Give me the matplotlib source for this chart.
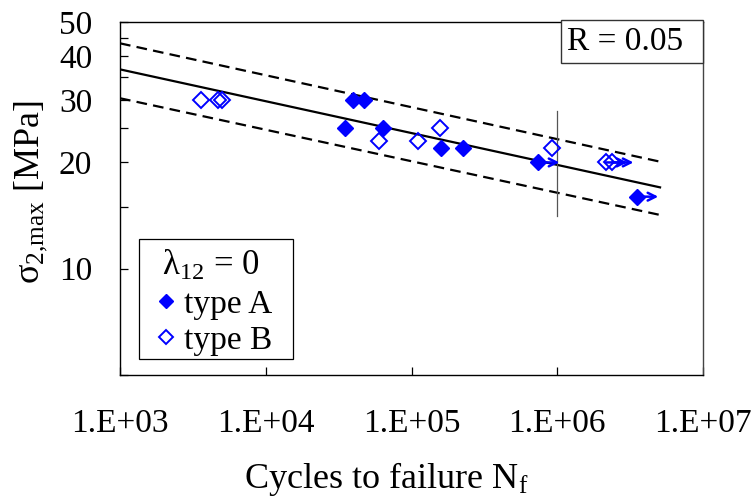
import matplotlib
matplotlib.use("Agg")
import matplotlib.pyplot as plt
from matplotlib.patches import Rectangle
from matplotlib.ticker import FixedLocator, NullLocator, NullFormatter, FixedFormatter

plt.rcParams['font.family'] = ['Liberation Serif', 'DejaVu Serif']
plt.rcParams['mathtext.fontset'] = 'custom'
plt.rcParams['mathtext.rm'] = 'Liberation Serif'
plt.rcParams['mathtext.it'] = 'Liberation Serif:italic'

# data
typeA_N = [3.97e4, 4.72e4, 3.5e4, 6.37e4, 1.59e5, 2.25e5, 7.38e5, 3.52e6]
typeA_S = [30, 30, 25, 25, 22, 22, 20, 16]
typeA_runout = [False, False, False, False, False, False, True, True]

typeB_N = [3.59e3, 4.7e3, 5.0e3, 5.98e4, 1.11e5, 1.57e5, 9.2e5, 2.16e6, 2.38e6]
typeB_S = [30, 30, 30, 23, 23, 25, 22, 20, 20]
typeB_runout = [False, False, False, False, False, False, False, True, True]

# fitted S-N line and scatter band (end points)
fit_N = [1e3, 5.07e6]
fit_S = [36.7, 17.0]
upper_S = [43.5, 20.1]
lower_S = [30.4, 14.2]

# run-out limit marker
limit_N = [1e6, 1e6]
limit_S = [14.1, 28.0]

xticks = [1e3, 1e4, 1e5, 1e6, 1e7]
xlabels = ["1.E+03", "1.E+04", "1.E+05", "1.E+06", "1.E+07"]
yticks = [5, 10, 15, 20, 25, 30, 35, 40, 45, 50]
ylabels = ["", "10", "", "20", "", "30", "", "40", "", "50"]

fs = 24
blue = "#0000ff"

fig = plt.figure(figsize=(7.52, 4.97), dpi=100)
ax = fig.add_axes([0.1596, 0.2455, 0.7753, 0.7103])
ax.set_xscale('log')
ax.set_yscale('log')
ax.set_xlim(1e3, 1e7)
ax.set_ylim(5, 50)

ax.plot(fit_N, fit_S, color='black', lw=1.6, zorder=2)
ax.plot(fit_N, upper_S, color='black', lw=1.6, ls=(0, (4.8, 2.8)), zorder=2)
ax.plot(fit_N, lower_S, color='black', lw=1.6, ls=(0, (4.8, 2.8)), zorder=2)
ax.plot(limit_N, limit_S, color='#555555', lw=0.9, zorder=2)

# run-out arrows
for N, S, r in list(zip(typeA_N, typeA_S, typeA_runout)) + list(zip(typeB_N, typeB_S, typeB_runout)):
    if r:
        ax.annotate("", xy=(N * 1.4, S), xytext=(N, S),
                    arrowprops=dict(arrowstyle='->', color=blue, lw=1.8,
                                    mutation_scale=14, shrinkA=0, shrinkB=0),
                    zorder=3)

ax.plot(typeA_N, typeA_S, ls='none', marker='D', ms=8.5, mfc=blue, mec=blue,
        mew=1.0, label='type A', zorder=4)
ax.plot(typeB_N, typeB_S, ls='none', marker='D', ms=8.0, mfc='none', mec=blue,
        mew=1.4, label='type B', zorder=4)

ax.xaxis.set_major_locator(FixedLocator(xticks))
ax.xaxis.set_major_formatter(FixedFormatter(xlabels))
ax.xaxis.set_minor_locator(NullLocator())
ax.xaxis.set_minor_formatter(NullFormatter())
ax.yaxis.set_major_locator(FixedLocator(yticks))
ax.yaxis.set_major_formatter(FixedFormatter(ylabels))
ax.yaxis.set_minor_locator(NullLocator())
ax.yaxis.set_minor_formatter(NullFormatter())

ax.tick_params(axis='x', direction='in', length=6, width=0.9, pad=24, labelsize=fs)
ax.tick_params(axis='y', direction='in', length=6, width=0.9, pad=20, labelsize=fs)
for s in ax.spines.values():
    s.set_linewidth(1.0)
ax.spines['right'].set_color('#444444')

ax.set_xlabel("Cycles to failure N$_\\mathrm{f}$", fontsize=26)
ax.xaxis.set_label_coords(0.456, -0.24)
ax.set_ylabel("σ$_{2{,}\\mathrm{max}}$ [MPa]", fontsize=26)
ax.yaxis.set_label_coords(-0.121, 0.518)

# R box
ax.add_patch(Rectangle((0.756, 0.884), 0.244, 0.122, transform=ax.transAxes,
                       fc='white', ec='#333333', lw=1.0, zorder=5, clip_on=False))
ax.text(0.866, 0.945, "R = 0.05", transform=ax.transAxes, ha='center',
        va='center', fontsize=fs, zorder=6)

# legend box drawn separately, legend itself frameless
ax.add_patch(Rectangle((0.0326, 0.0453), 0.2641, 0.34, transform=ax.transAxes,
                       fc='white', ec='black', lw=0.9, zorder=5))
leg = ax.legend(title="λ$_{12}$ = 0", loc='upper left',
                bbox_to_anchor=(0.0326, 0.3853), borderaxespad=0,
                fontsize=fs, title_fontsize=fs + 1, markerscale=0.85,
                handlelength=1.0, handletextpad=0.05, labelspacing=0.18,
                borderpad=0.3, frameon=False)
leg.set_zorder(6)

fig.savefig("out.png", dpi=100)
